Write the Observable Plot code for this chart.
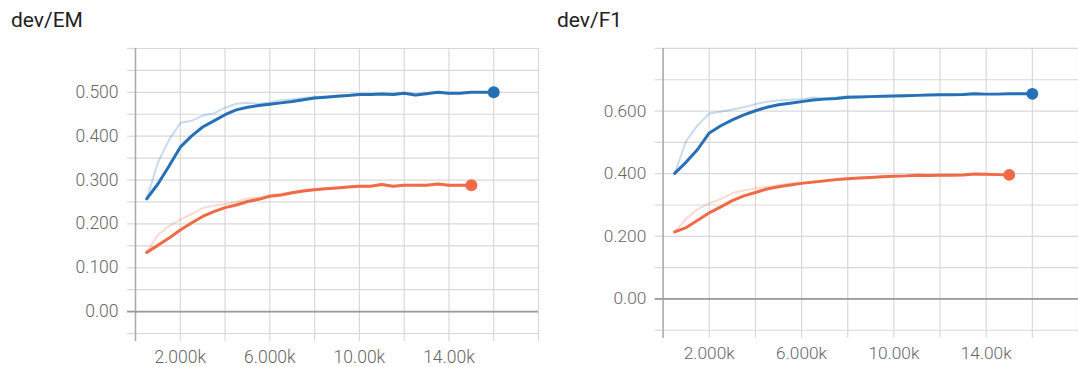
<!DOCTYPE html>
<html>
<head>
<meta charset="utf-8">
<script src="https://cdn.jsdelivr.net/npm/d3@7"></script>
<script src="https://cdn.jsdelivr.net/npm/@observablehq/plot@0.6"></script>
<style>
  html, body { margin: 0; padding: 0; background: #fff; overflow: hidden; width: 1078px; height: 367px; }
  .panel { position: absolute; top: 0; height: 367px; overflow: hidden; }
  .title { position: absolute; top: 10px; font-family: Roboto, "Helvetica Neue", Arial, sans-serif; font-size: 21px; line-height: 21px; color: #222; white-space: nowrap; }
  .chart { position: absolute; top: 40px; left: 0; }
</style>
</head>
<body>
<div class="panel" id="pEM" style="left:0;width:540px;"><div class="title" style="left:11px;">dev/EM</div><div class="chart" id="cEM"></div></div>
<div class="panel" id="pF1" style="left:540px;width:538px;"><div class="title" style="left:17px;">dev/F1</div><div class="chart" id="cF1"></div></div>
<script>
// ---- data ----
const stepsBlue = [500,1000,1500,2000,2500,3000,3500,4000,4500,5000,5500,6000,6500,7000,7500,8000,8500,9000,9500,10000,10500,11000,11500,12000,12500,13000,13500,14000,14500,15000,15500,16000];
const stepsOrange = [500,1000,1500,2000,2500,3000,3500,4000,4500,5000,5500,6000,6500,7000,7500,8000,8500,9000,9500,10000,10500,11000,11500,12000,12500,13000,13500,14000,14500,15000];

const emBlueSmooth = [0.257,0.291,0.332,0.375,0.400,0.421,0.435,0.449,0.460,0.466,0.470,0.473,0.476,0.479,0.483,0.487,0.489,0.491,0.493,0.495,0.495,0.496,0.495,0.498,0.494,0.497,0.500,0.498,0.498,0.500,0.500,0.500];
const emBlueRaw = [0.257,0.340,0.392,0.430,0.435,0.447,0.452,0.465,0.474,0.476,0.474,0.477,0.482,0.484,0.487,0.490,0.490,0.492,0.494,0.496,0.495,0.497,0.494,0.499,0.493,0.498,0.501,0.497,0.499,0.501,0.500,0.500];
const emOrangeSmooth = [0.135,0.151,0.168,0.186,0.202,0.217,0.228,0.237,0.243,0.251,0.256,0.263,0.266,0.271,0.275,0.278,0.280,0.282,0.284,0.286,0.286,0.290,0.286,0.288,0.288,0.288,0.291,0.288,0.288,0.288];
const emOrangeRaw = [0.135,0.175,0.195,0.210,0.222,0.236,0.242,0.245,0.250,0.258,0.261,0.266,0.268,0.272,0.278,0.279,0.281,0.283,0.285,0.287,0.286,0.291,0.285,0.289,0.288,0.288,0.292,0.287,0.288,0.288];

const f1BlueSmooth = [0.401,0.437,0.478,0.530,0.553,0.572,0.588,0.601,0.612,0.620,0.625,0.630,0.635,0.638,0.640,0.644,0.645,0.646,0.647,0.648,0.649,0.650,0.651,0.652,0.652,0.653,0.655,0.654,0.654,0.655,0.655,0.655];
const f1BlueRaw = [0.401,0.505,0.555,0.592,0.598,0.605,0.612,0.622,0.630,0.634,0.636,0.638,0.643,0.641,0.643,0.647,0.646,0.647,0.648,0.649,0.650,0.651,0.652,0.652,0.653,0.654,0.657,0.654,0.655,0.655,0.656,0.655];
const f1OrangeSmooth = [0.214,0.228,0.251,0.275,0.294,0.314,0.329,0.340,0.351,0.358,0.364,0.369,0.373,0.377,0.381,0.384,0.386,0.388,0.390,0.392,0.393,0.395,0.394,0.395,0.395,0.396,0.399,0.398,0.397,0.396];
const f1OrangeRaw = [0.214,0.256,0.287,0.305,0.319,0.338,0.346,0.353,0.358,0.363,0.369,0.372,0.375,0.379,0.383,0.386,0.387,0.389,0.391,0.393,0.392,0.396,0.393,0.396,0.395,0.397,0.400,0.397,0.397,0.396];

const xGrid = [0,2000,4000,6000,8000,10000,12000,14000,16000,18000];
const xTickValues = [2000,6000,10000,14000];
const xTickLabels = ["2.000k","6.000k","10.00k","14.00k"];

const emYGrid = [-0.05,0,0.05,0.1,0.15,0.2,0.25,0.3,0.35,0.4,0.45,0.5,0.55,0.6];
const emYTickValues = [0,0.1,0.2,0.3,0.4,0.5];
const emYTickLabels = ["0.00","0.100","0.200","0.300","0.400","0.500"];

const f1YGrid = [-0.1,0,0.1,0.2,0.3,0.4,0.5,0.6,0.7,0.8];
const f1YTickValues = [0,0.2,0.4,0.6];
const f1YTickLabels = ["0.00","0.200","0.400","0.600"];

const BLUE = "#2570b6";
const ORANGE = "#f06a46";

function table(steps, smooth, raw) {
  return steps.map((s, i) => ({step: s, smooth: smooth[i], raw: raw[i]}));
}

function panel(o) {
  const xMap = new Map(xTickValues.map((v, i) => [v, xTickLabels[i]]));
  const yMap = new Map(o.yTickValues.map((v, i) => [v, o.yTickLabels[i]]));
  const blue = table(stepsBlue, o.blueSmooth, o.blueRaw);
  const orange = table(stepsOrange, o.orangeSmooth, o.orangeRaw);
  const blank = () => "";
  return Plot.plot({
    width: o.width,
    height: 327,
    marginTop: 8,
    marginBottom: 34,
    marginLeft: o.marginLeft,
    marginRight: o.marginRight,
    style: {fontFamily: "Roboto, 'Helvetica Neue', Arial, sans-serif", fontSize: "17.5px", color: "#666", background: "transparent", overflow: "visible"},
    x: {domain: [0, 18000], label: null},
    y: {domain: o.yDomain, label: null},
    marks: [
      Plot.gridX(xGrid, {stroke: "#d8d8d8", strokeOpacity: 1, strokeWidth: 1.2}),
      Plot.gridY(o.yGrid, {stroke: "#d8d8d8", strokeOpacity: 1, strokeWidth: 1.2}),
      Plot.axisY(o.yGrid, {tickSize: 8, stroke: "#d8d8d8", strokeWidth: 1.2, tickFormat: blank, label: null}),
      Plot.axisX(xGrid, {tickSize: 8, stroke: "#d8d8d8", strokeWidth: 1.2, tickFormat: blank, label: null}),
      Plot.ruleX([0], {stroke: "#aaa", strokeWidth: 1.5}),
      Plot.axisX([0], {tickSize: 8, stroke: "#aaa", strokeWidth: 1.5, tickFormat: blank, label: null}),
      Plot.ruleY([0], {stroke: "#9a9a9a", strokeWidth: 1.8}),
      Plot.axisY([0], {tickSize: 8, stroke: "#9a9a9a", strokeWidth: 1.8, tickFormat: blank, label: null}),
      Plot.axisY(o.yTickValues, {tickSize: 0, tickPadding: 17, tickFormat: d => yMap.get(d), fill: "#666", fontSize: 17.5, fontWeight: 300, label: null}),
      Plot.axisX(xTickValues, {tickSize: 0, tickPadding: 17, tickFormat: d => xMap.get(d), fill: "#666", fontSize: 17.5, fontWeight: 300, label: null}),
      Plot.line(blue, {x: "step", y: "raw", stroke: BLUE, strokeOpacity: 0.25, strokeWidth: 2}),
      Plot.line(orange, {x: "step", y: "raw", stroke: ORANGE, strokeOpacity: 0.25, strokeWidth: 2}),
      Plot.line(blue, {x: "step", y: "smooth", stroke: BLUE, strokeWidth: 3}),
      Plot.line(orange, {x: "step", y: "smooth", stroke: ORANGE, strokeWidth: 3}),
      Plot.dot(blue.slice(-1), {x: "step", y: "smooth", r: 6, fill: BLUE}),
      Plot.dot(orange.slice(-1), {x: "step", y: "smooth", r: 6, fill: ORANGE})
    ]
  });
}

document.getElementById("cEM").append(panel({
  width: 540, marginLeft: 135, marginRight: 2,
  yDomain: [-0.05, 0.6], yGrid: emYGrid, yTickValues: emYTickValues, yTickLabels: emYTickLabels,
  blueSmooth: emBlueSmooth, blueRaw: emBlueRaw, orangeSmooth: emOrangeSmooth, orangeRaw: emOrangeRaw
}));

document.getElementById("cF1").append(panel({
  width: 544, marginLeft: 124, marginRight: 0,
  yDomain: [-0.1, 0.8], yGrid: f1YGrid, yTickValues: f1YTickValues, yTickLabels: f1YTickLabels,
  blueSmooth: f1BlueSmooth, blueRaw: f1BlueRaw, orangeSmooth: f1OrangeSmooth, orangeRaw: f1OrangeRaw
}));
</script>
</body>
</html>
